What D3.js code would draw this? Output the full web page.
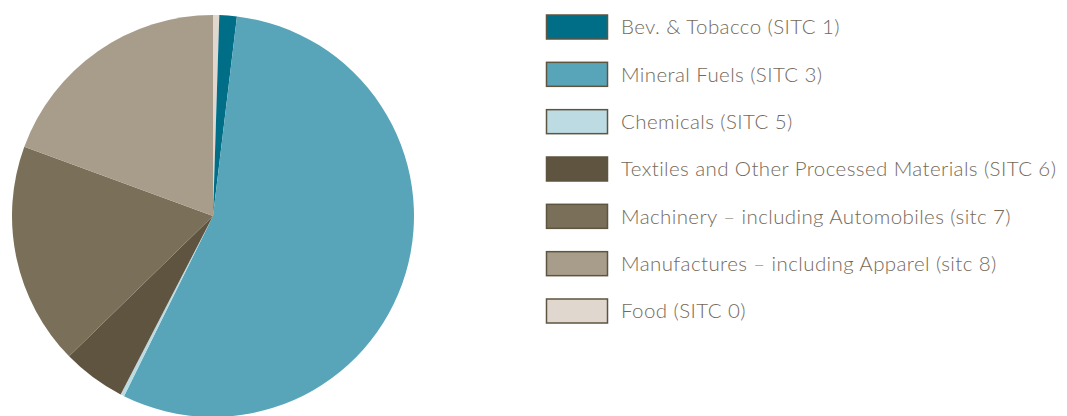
<!DOCTYPE html>
<html><head><meta charset="utf-8">
<script src="https://cdn.jsdelivr.net/npm/d3@7"></script>
<style>body{margin:0;background:#fff;} text{font-family:Lato,"Open Sans",sans-serif;}</style>
</head><body>
<svg id="c" width="1067" height="416"></svg>
<script>
const categories = ["Food (SITC 0)","Bev. & Tobacco (SITC 1)","Mineral Fuels (SITC 3)","Chemicals (SITC 5)","Textiles and Other Processed Materials (SITC 6)","Machinery \u2013 including Automobiles (sitc 7)","Manufactures \u2013 including Apparel (sitc 8)"];
const values = [0.5, 1.4, 55.4, 0.3, 5.1, 17.9, 19.4];
const colors = ["#e0d8ce","#006e87","#58a5ba","#bcdbe3","#5e5440","#7a6f58","#a89d8a"];
const legendOrder = [1,2,3,4,5,6,0];

const svg = d3.select("#c");
const cx = 213, cy = 216, r = 201;
const pie = d3.pie().sort(null).value(d => d)(values);
const arc = d3.arc().innerRadius(0).outerRadius(r);
svg.append("g").attr("transform",`translate(${cx},${cy})`)
  .selectAll("path").data(pie).join("path")
  .attr("d", arc).attr("fill",(d,i)=>colors[i]);

const y = d3.scalePoint().domain(legendOrder).range([27, 311]);
const lg = svg.append("g");
legendOrder.forEach(i => {
  lg.append("rect").attr("x",546.5).attr("y",y(i)-12).attr("width",61).attr("height",24)
    .attr("fill",colors[i]).attr("stroke","#5e5440").attr("stroke-width",1.5);
  lg.append("text").attr("x",621).attr("y",y(i)).attr("dy","0.35em")
    .attr("font-size",20.5).attr("letter-spacing",0.4).attr("font-weight",300).attr("fill","#75695a").text(categories[i]);
});
</script></body></html>
